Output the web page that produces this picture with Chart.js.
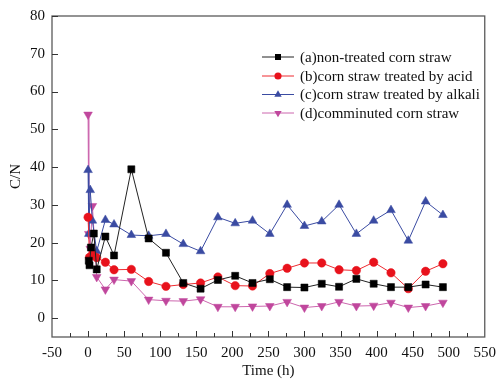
<!DOCTYPE html>
<html>
<head>
<meta charset="utf-8">
<script src="https://cdn.jsdelivr.net/npm/chart.js@4.4.1/dist/chart.umd.min.js"></script>
<style>
  html, body { margin: 0; padding: 0; background: #fff; }
</style>
</head>
<body>
<canvas id="c" width="503" height="381"></canvas>
<script>
// sampling times (h) and C/N ratio
const hoursA = [1, 2, 4, 8, 12, 24, 36, 60, 84, 108, 132, 156, 180, 204, 228, 252, 276, 300, 324, 348, 372, 396, 420, 444, 468, 492];
const cnA = [15.2, 14.0, 18.7, 22.4, 12.9, 21.6, 16.6, 39.4, 21.1, 17.3, 9.3, 7.8, 10.1, 11.2, 9.3, 10.3, 8.2, 8.1, 9.1, 8.3, 10.4, 9.1, 8.2, 8.2, 8.9, 8.2];

const hoursB = [0, 2, 6, 12, 24, 36, 60, 84, 108, 132, 156, 180, 204, 228, 252, 276, 300, 324, 348, 372, 396, 420, 444, 468, 492];
const cnB = [26.7, 16.1, 16.8, 16.0, 14.8, 12.8, 12.9, 9.7, 8.4, 8.9, 9.3, 10.9, 8.6, 8.5, 11.8, 13.2, 14.6, 14.6, 12.8, 12.6, 14.8, 12.0, 7.8, 12.4, 14.4];

const hoursC = [0, 1, 3, 6, 12, 24, 36, 60, 84, 108, 132, 156, 180, 204, 228, 252, 276, 300, 324, 348, 372, 396, 420, 444, 468, 492];
const cnC = [39.2, 22.3, 33.9, 25.8, 17.7, 26.0, 24.8, 22.0, 21.8, 22.3, 19.6, 17.7, 26.7, 25.1, 25.8, 22.3, 30.0, 24.4, 25.6, 30.0, 22.3, 25.8, 28.6, 20.5, 30.9, 27.3];

const hoursD = [0, 1, 3, 6, 12, 24, 36, 60, 84, 108, 132, 156, 180, 204, 228, 252, 276, 300, 324, 348, 372, 396, 420, 444, 468, 492];
const cnD = [53.9, 22.3, 18.4, 29.7, 10.9, 7.6, 10.2, 9.8, 4.9, 4.6, 4.5, 5.0, 3.0, 3.0, 3.1, 3.2, 4.3, 2.8, 3.2, 4.3, 3.2, 3.3, 4.1, 2.8, 3.2, 4.1];

const seriesNames = ['(a)non-treated corn straw', '(b)corn straw treated by acid', '(c)corn straw treated by alkali', '(d)comminuted corn straw'];
const yTicks = [0, 10, 20, 30, 40, 50, 60, 70, 80];

const FONT = "'Liberation Serif', 'Times New Roman', serif";

function pts(hours, vals) {
  return hours.map((h, i) => ({ x: h, y: vals[i] }));
}

function makeSet(label, data, color, lineColor, style, radius, rot) {
  return {
    label: label,
    data: data,
    borderColor: lineColor,
    backgroundColor: color,
    pointBackgroundColor: color,
    pointBorderColor: color,
    pointBorderWidth: 0.5,
    borderWidth: 1,
    pointStyle: style,
    pointRadius: radius,
    pointRotation: rot,
    tension: 0
  };
}

let datasets = [
  makeSet(seriesNames[0], pts(hoursA, cnA), '#000000', '#222222', 'rect', 5, 0),
  makeSet(seriesNames[1], pts(hoursB, cnB), '#e8121c', '#ee2a30', 'circle', 4.2, 0),
  makeSet(seriesNames[2], pts(hoursC, cnC), '#3a4ba2', '#3a4ba2', 'triangle', 5, 0),
  makeSet(seriesNames[3], pts(hoursD, cnD), '#c0479d', '#cc66ae', 'triangle', 5, 180)
];

// frame, inward ticks and legend drawn inside the plot
const framePlugin = {
  id: 'frame',
  afterDraw(chart) {
    const ctx = chart.ctx;
    const a = chart.chartArea;
    const xs = chart.scales.x, ys = chart.scales.y;
    ctx.save();
    ctx.strokeStyle = '#5a5a5a';
    ctx.lineWidth = 1.3;
    ctx.strokeRect(a.left, a.top, a.right - a.left, a.bottom - a.top);

    ctx.lineWidth = 1;
    ctx.strokeStyle = '#333';
    ctx.beginPath();
    for (let v = -25; v < 550; v += 25) {
      let px = Math.round(xs.getPixelForValue(v)) + 0.5;
      let len = (v % 50 === 0) ? 6 : 4;
      ctx.moveTo(px, a.bottom);
      ctx.lineTo(px, a.bottom - len);
    }
    yTicks.forEach(v => {
      let py = Math.round(ys.getPixelForValue(v)) + 0.5;
      ctx.moveTo(a.left, py);
      ctx.lineTo(a.left + 6, py);
    });
    ctx.stroke();

    // legend
    const rowY = [57, 76, 94.5, 113];
    chart.data.datasets.forEach((ds, i) => {
      let y = rowY[i];
      ctx.strokeStyle = ds.borderColor;
      ctx.lineWidth = 1;
      ctx.beginPath();
      ctx.moveTo(262, y);
      ctx.lineTo(294, y);
      ctx.stroke();
      ctx.fillStyle = ds.pointBackgroundColor;
      Chart.helpers.drawPoint(ctx, {
        pointStyle: ds.pointStyle,
        radius: ds.pointRadius * 0.85,
        rotation: ds.pointRotation,
        borderWidth: 0
      }, 278, y);
      ctx.fillStyle = '#111';
      ctx.font = '15px ' + FONT;
      ctx.textBaseline = 'middle';
      ctx.fillText(ds.label, 300, y + 1);
    });
    ctx.restore();
  }
};

new Chart(document.getElementById('c'), {
  type: 'line',
  data: { datasets: datasets },
  options: {
    responsive: false,
    animation: false,
    devicePixelRatio: 1,
    layout: { padding: { top: 14, right: 11, left: 0, bottom: 0 } },
    plugins: {
      legend: { display: false },
      tooltip: { enabled: false }
    },
    scales: {
      x: {
        type: 'linear',
        min: -50,
        max: 550,
        grid: { display: false, drawTicks: false },
        border: { display: false },
        ticks: { stepSize: 50, color: '#111', padding: 7, maxRotation: 0, font: { family: FONT, size: 15 } },
        title: { display: true, text: 'Time (h)', color: '#111', font: { family: FONT, size: 15 }, padding: { top: 0, bottom: 1 } },
        afterFit(scale) { scale.height = 44; }
      },
      y: {
        min: -5,
        max: 80,
        grid: { display: false, drawTicks: false },
        border: { display: false },
        ticks: { color: '#111', padding: 7, font: { family: FONT, size: 15 } },
        afterBuildTicks(scale) { scale.ticks = yTicks.map(v => ({ value: v })); },
        title: { display: true, text: 'C/N', color: '#111', font: { family: FONT, size: 15 }, padding: { top: 7, bottom: 0 } },
        afterFit(scale) { scale.width = 52; }
      }
    }
  },
  plugins: [framePlugin]
});
</script>
</body>
</html>
